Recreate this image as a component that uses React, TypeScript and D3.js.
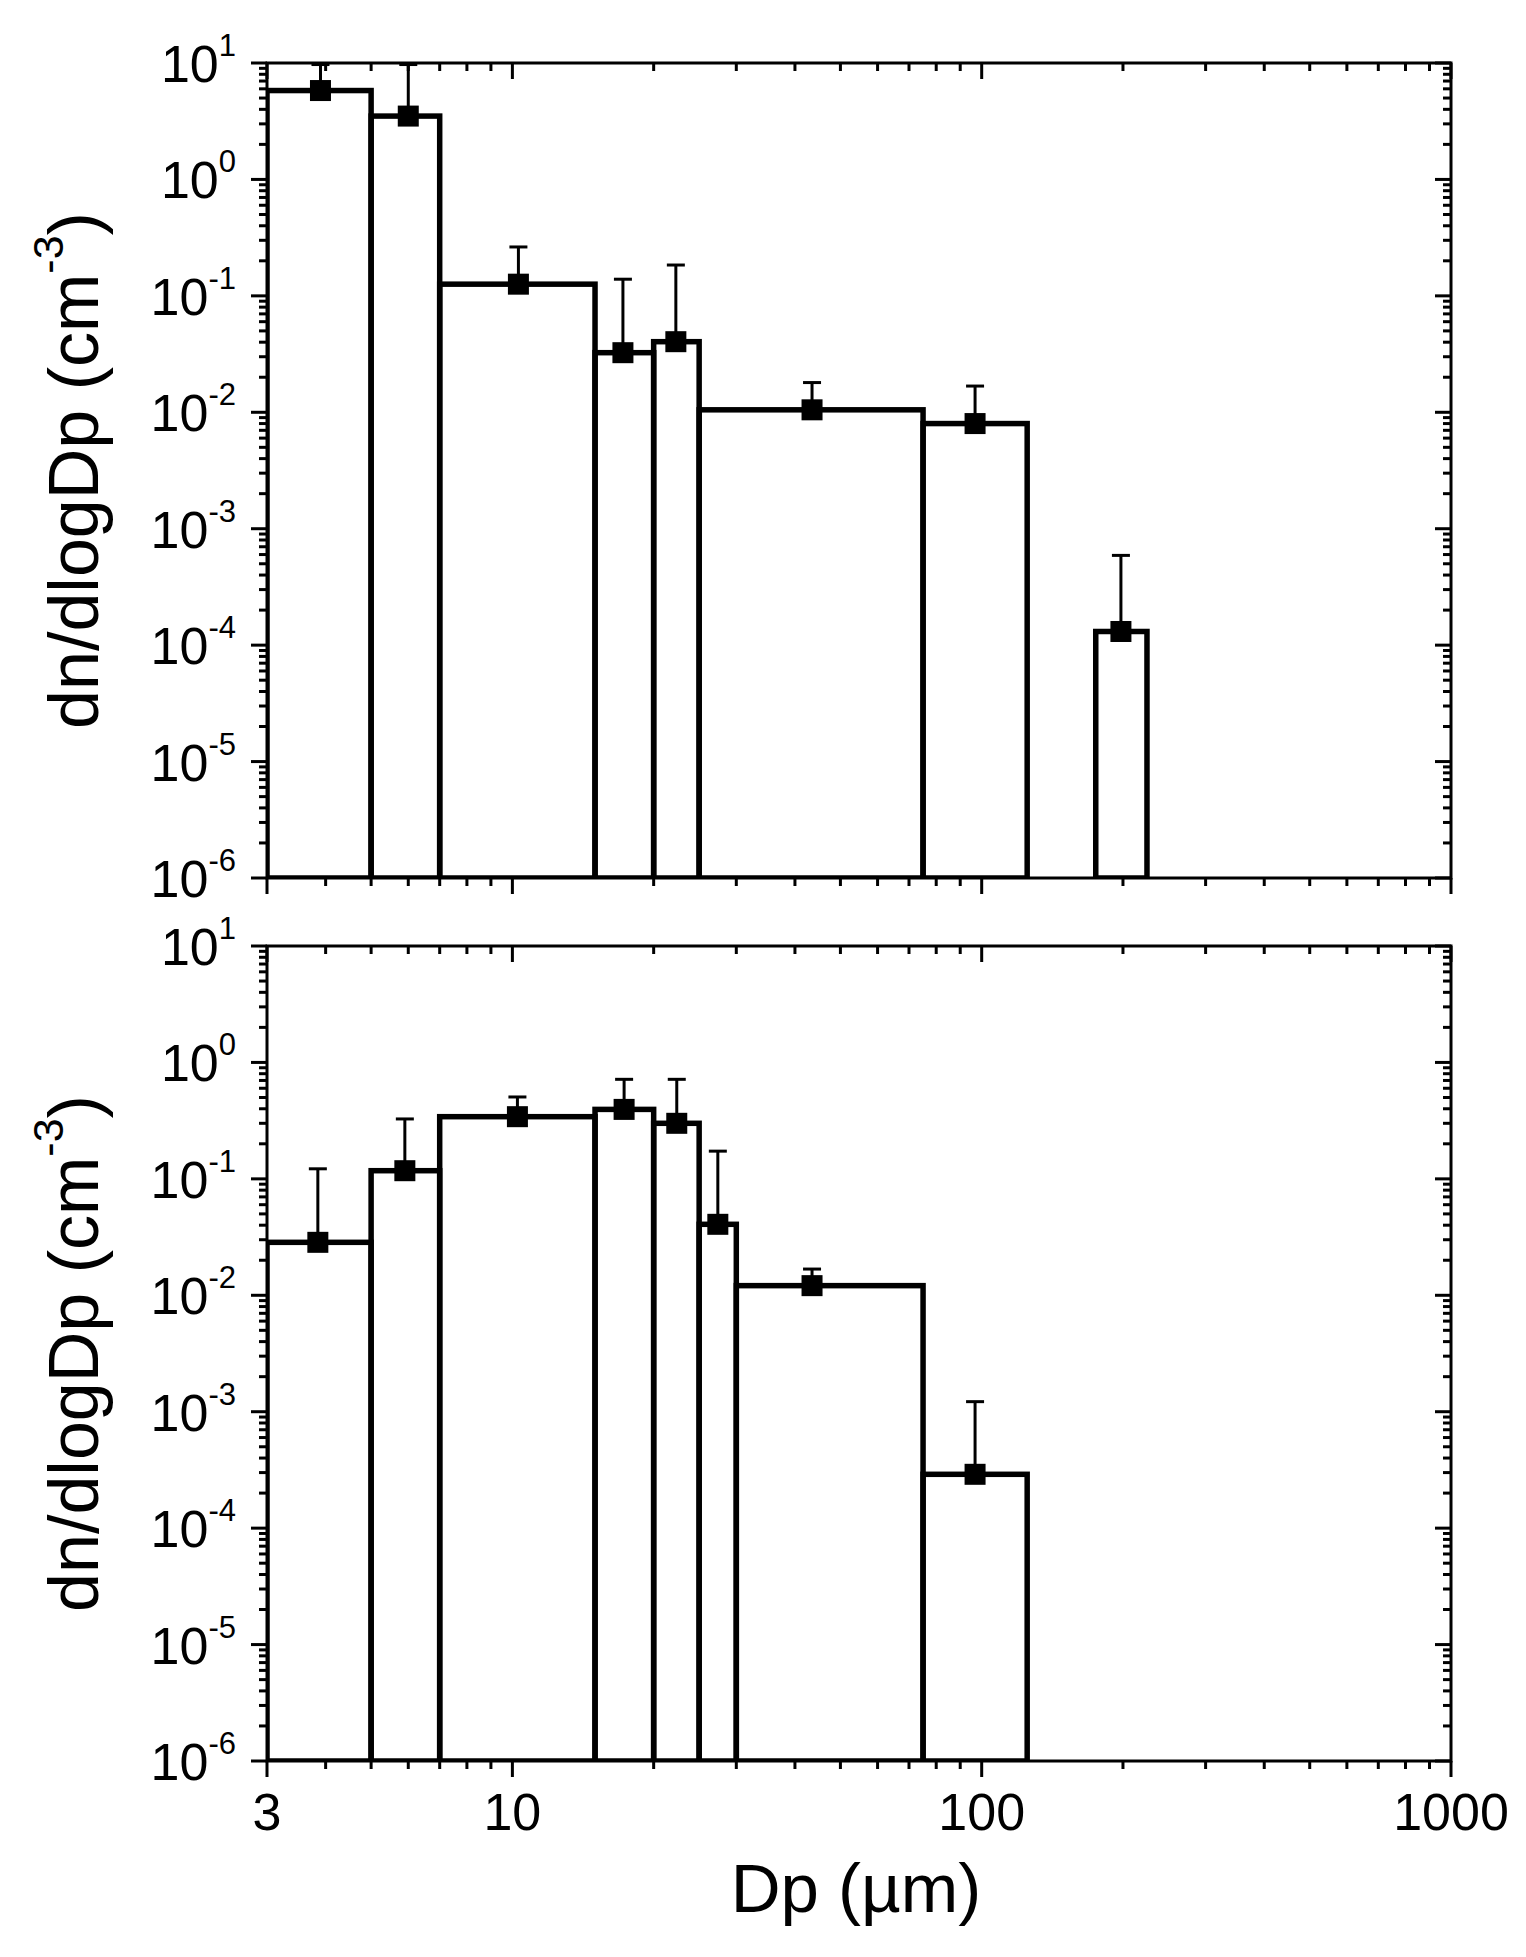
import React from 'react';
import * as d3 from 'd3';

// ---------- data ----------
// Upper panel
const binLowTop = [3, 5, 7, 15, 20, 25, 75, 175];
const binHighTop = [5, 7, 15, 20, 25, 75, 125, 225];
const valuesTop = [5.8, 3.5, 0.126, 0.0325, 0.0404, 0.0105, 0.008, 0.000131];
const errUpperTop = [9.7, 9.7, 0.263, 0.139, 0.184, 0.018, 0.0168, 0.00059];
const markerDpTop = [3.9, 6.0, 10.3, 17.2, 22.3, 43.5, 96.8, 198];

// Lower panel
const binLowBottom = [3, 5, 7, 15, 20, 25, 30, 75];
const binHighBottom = [5, 7, 15, 20, 25, 30, 75, 125];
const valuesBottom = [0.0285, 0.1175, 0.342, 0.395, 0.3, 0.0407, 0.0121, 0.00029];
const errUpperBottom = [0.122, 0.327, 0.505, 0.716, 0.716, 0.173, 0.0168, 0.00122];
const markerDpBottom = [3.85, 5.9, 10.25, 17.3, 22.4, 27.4, 43.5, 96.8];

// Axes
const xDomain = [3, 1000];
const xMajorTicks = [3, 10, 100, 1000];
const xTickLabels = ['3', '10', '100', '1000'];
const yDomain = [1e-6, 10];
const yExponents = [-6, -5, -4, -3, -2, -1, 0, 1];
const yTitle = 'dn/dlogDp (cm';
const yTitleSup = '-3';
const xTitle = 'Dp (µm)';

const FONT = '"Liberation Sans", Arial, Helvetica, sans-serif';
const W = 1526;
const H = 1957;
const PLOT_LEFT = 267;
const PLOT_RIGHT = 1451;
const PLOT_H = 815;
const PANEL_TOPS = [63, 946];

const x = d3.scaleLog().domain(xDomain).range([PLOT_LEFT, PLOT_RIGHT]);

function xMinorTicks(): number[] {
  const out: number[] = [];
  for (let e = 0; e <= 3; e++) {
    for (let m = 1; m <= 9; m++) {
      const v = m * Math.pow(10, e);
      if (v > xDomain[0] && v < xDomain[1] && !xMajorTicks.includes(v)) out.push(v);
    }
  }
  return out;
}

function yMinorTicks(): number[] {
  const out: number[] = [];
  for (let e = -6; e <= 0; e++) {
    for (let m = 2; m <= 9; m++) out.push(m * Math.pow(10, e));
  }
  return out;
}

type PanelProps = {
  top: number;
  low: number[];
  high: number[];
  values: number[];
  err: number[];
  markers: number[];
  showXLabels: boolean;
  id: string;
};

function Panel({ top, low, high, values, err, markers, showXLabels, id }: PanelProps) {
  const y = d3.scaleLog().domain(yDomain).range([top + PLOT_H, top]);
  const bottom = top + PLOT_H;
  const majLen = 16;
  const minLen = 8;
  const axisW = 3;
  const xMin = xMinorTicks();
  const yMin = yMinorTicks();
  const yMaj = yExponents.map((e) => Math.pow(10, e));
  return (
    <g>
      <defs>
        <clipPath id={id}>
          <rect x={PLOT_LEFT} y={top} width={PLOT_RIGHT - PLOT_LEFT} height={PLOT_H} />
        </clipPath>
      </defs>
      <g clipPath={`url(#${id})`}>
        {values.map((v, i) => (
          <rect
            key={'b' + i}
            x={x(low[i])}
            y={y(v)}
            width={x(high[i]) - x(low[i])}
            height={bottom - y(v)}
            fill="none"
            stroke="#000"
            strokeWidth={5.5}
          />
        ))}
        {values.map((v, i) => (
          <g key={'e' + i}>
            <line x1={x(markers[i])} x2={x(markers[i])} y1={y(v)} y2={y(err[i])} stroke="#000" strokeWidth={3} />
            <line x1={x(markers[i]) - 9} x2={x(markers[i]) + 9} y1={y(err[i])} y2={y(err[i])} stroke="#000" strokeWidth={3} />
          </g>
        ))}
        {values.map((v, i) => (
          <rect key={'m' + i} x={x(markers[i]) - 10.5} y={y(v) - 10.5} width={21} height={21} fill="#000" />
        ))}
      </g>
      {/* frame */}
      <rect x={PLOT_LEFT} y={top} width={PLOT_RIGHT - PLOT_LEFT} height={PLOT_H} fill="none" stroke="#000" strokeWidth={axisW} />
      {/* x ticks: bottom outward, top inward */}
      {xMajorTicks.map((t) => (
        <g key={'xM' + t}>
          <line x1={x(t)} x2={x(t)} y1={bottom} y2={bottom + majLen} stroke="#000" strokeWidth={axisW} />
          <line x1={x(t)} x2={x(t)} y1={top} y2={top + majLen} stroke="#000" strokeWidth={axisW} />
        </g>
      ))}
      {xMin.map((t) => (
        <g key={'xm' + t}>
          <line x1={x(t)} x2={x(t)} y1={bottom} y2={bottom + minLen} stroke="#000" strokeWidth={axisW} />
          <line x1={x(t)} x2={x(t)} y1={top} y2={top + minLen} stroke="#000" strokeWidth={axisW} />
        </g>
      ))}
      {/* y ticks: left outward, right inward */}
      {yMaj.map((t) => (
        <g key={'yM' + t}>
          <line x1={PLOT_LEFT - majLen} x2={PLOT_LEFT} y1={y(t)} y2={y(t)} stroke="#000" strokeWidth={axisW} />
          <line x1={PLOT_RIGHT - majLen} x2={PLOT_RIGHT} y1={y(t)} y2={y(t)} stroke="#000" strokeWidth={axisW} />
        </g>
      ))}
      {yMin.map((t) => (
        <g key={'ym' + t}>
          <line x1={PLOT_LEFT - minLen} x2={PLOT_LEFT} y1={y(t)} y2={y(t)} stroke="#000" strokeWidth={axisW} />
          <line x1={PLOT_RIGHT - minLen} x2={PLOT_RIGHT} y1={y(t)} y2={y(t)} stroke="#000" strokeWidth={axisW} />
        </g>
      ))}
      {/* y tick labels */}
      {yExponents.map((e) => (
        <text key={'yl' + e} x={236} y={y(Math.pow(10, e)) + 19} textAnchor="end" fontFamily={FONT} fontSize={52} fill="#000">
          <tspan>10</tspan>
          <tspan dy={-26} fontSize={31}>{String(e)}</tspan>
        </text>
      ))}
      {/* x tick labels */}
      {showXLabels &&
        xMajorTicks.map((t, i) => (
          <text key={'xl' + t} x={x(t)} y={bottom + 69} textAnchor="middle" fontFamily={FONT} fontSize={52} fill="#000">
            {xTickLabels[i]}
          </text>
        ))}
      {/* y title */}
      <text
        transform={`translate(98, ${top + PLOT_H / 2}) rotate(-90)`}
        textAnchor="middle"
        fontFamily={FONT}
        fontSize={70}
        fill="#000"
      >
        <tspan>{yTitle}</tspan>
        <tspan dy={-35} fontSize={43}>{yTitleSup}</tspan>
        <tspan dy={35}>)</tspan>
      </text>
    </g>
  );
}

export default function App() {
  return (
    <svg
      width={W}
      height={H}
      viewBox={`0 0 ${W} ${H}`}
      style={{ position: 'absolute', left: 0, top: 0, background: '#fff' }}
    >
      <rect x={0} y={0} width={W} height={H} fill="#fff" />
      <Panel
        id="clipTop"
        top={PANEL_TOPS[0]}
        low={binLowTop}
        high={binHighTop}
        values={valuesTop}
        err={errUpperTop}
        markers={markerDpTop}
        showXLabels={false}
      />
      <Panel
        id="clipBottom"
        top={PANEL_TOPS[1]}
        low={binLowBottom}
        high={binHighBottom}
        values={valuesBottom}
        err={errUpperBottom}
        markers={markerDpBottom}
        showXLabels={true}
      />
      <text x={856} y={1912} textAnchor="middle" fontFamily={FONT} fontSize={69} fill="#000">
        {xTitle}
      </text>
    </svg>
  );
}
